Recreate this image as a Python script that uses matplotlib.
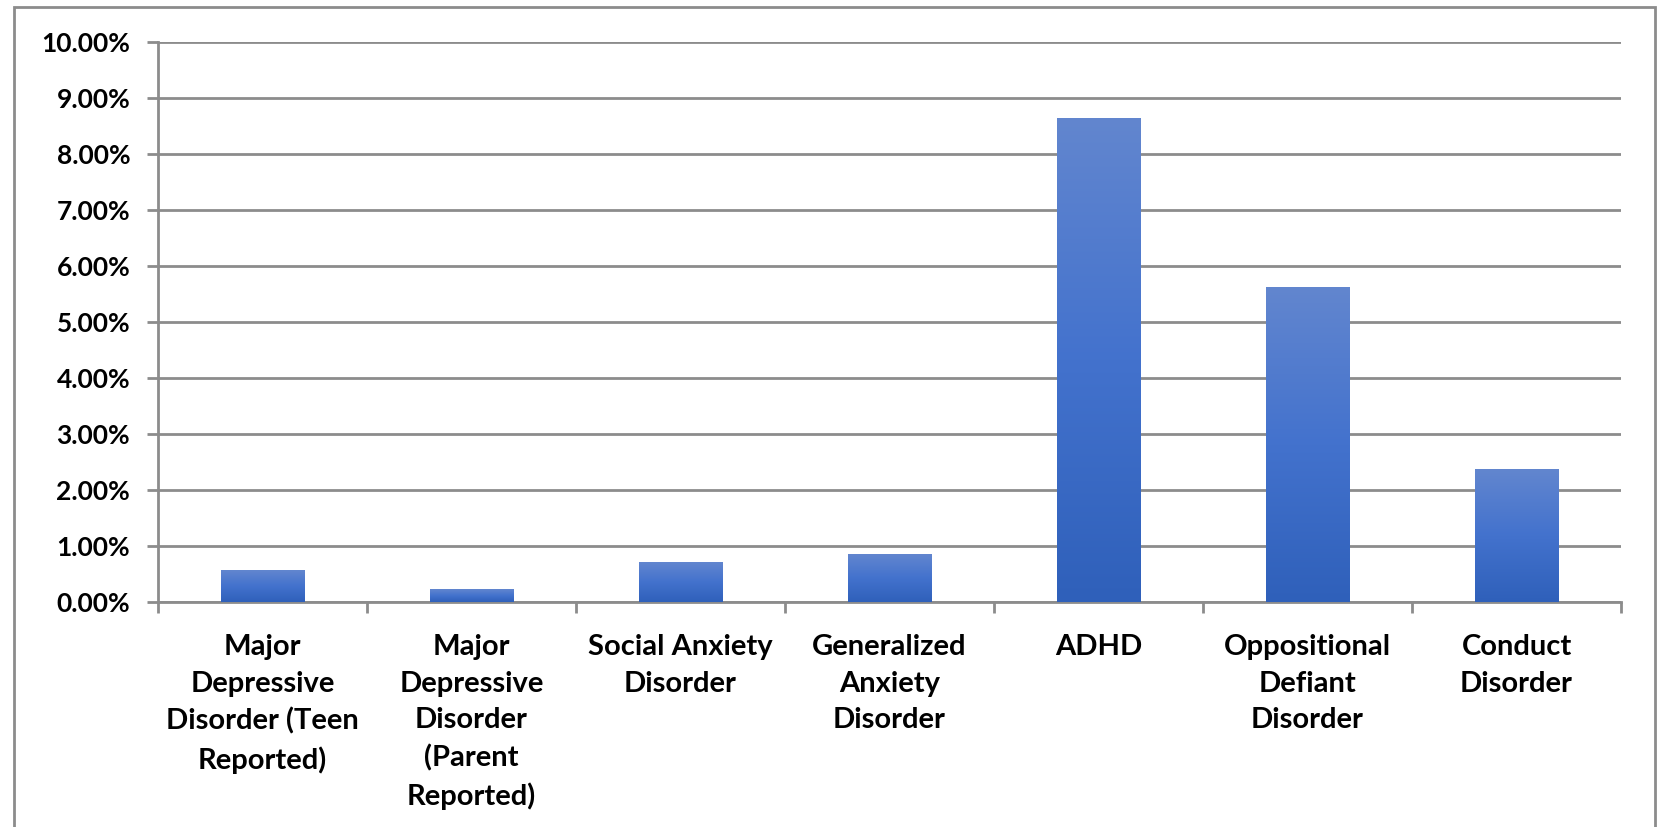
import numpy as np
import matplotlib.pyplot as plt
from matplotlib.patches import Rectangle
from matplotlib.colors import LinearSegmentedColormap
from matplotlib.ticker import FuncFormatter, MultipleLocator

# prevalence by disorder, percent
categories = [
    "Major\nDepressive\nDisorder (Teen\nReported)",
    "Major\nDepressive\nDisorder\n(Parent\nReported)",
    "Social Anxiety\nDisorder",
    "Generalized\nAnxiety\nDisorder",
    "ADHD",
    "Oppositional\nDefiant\nDisorder",
    "Conduct\nDisorder",
]
prevalence = [0.56, 0.22, 0.70, 0.85, 8.63, 5.61, 2.37]

plt.rcParams["font.family"] = ["Lato", "DejaVu Sans"]
plt.rcParams["font.weight"] = "bold"

GRID = "#8c8c8c"
fig = plt.figure(figsize=(16.66, 8.27), dpi=100)
ax = fig.add_axes([0.0948, 0.272, 0.973 - 0.0948, 0.949 - 0.272])

# outer chart frame (bottom edge runs off the canvas)
fig.patches.append(Rectangle((14 / 1666, -0.05), (1655 - 14) / 1666, 1.05 - 7 / 827,
                             transform=fig.transFigure, fill=False,
                             edgecolor=GRID, linewidth=2.0))

# vertical gradient used to fill each bar
bar_cmap = LinearSegmentedColormap.from_list("bar", ["#2f60ba", "#4372cd", "#6286cf"])
grad = np.linspace(0, 1, 256).reshape(-1, 1)

x = np.arange(len(categories))
width = 0.4
bars = ax.bar(x, prevalence, width=width, color="none", zorder=3)
for b in bars:
    x0, w, h = b.get_x(), b.get_width(), b.get_height()
    ax.imshow(grad, cmap=bar_cmap, origin="lower", aspect="auto",
              extent=(x0, x0 + w, 0, h), zorder=3, interpolation="bicubic")

ax.set_xlim(-0.5, len(categories) - 0.5)
ax.set_ylim(0, 10)
ax.yaxis.set_major_locator(MultipleLocator(1))
ax.yaxis.set_major_formatter(FuncFormatter(lambda v, _: f"{v:.2f}%"))
ax.grid(axis="y", color=GRID, linewidth=2.0, zorder=1)
ax.set_axisbelow(True)

for s in ["top", "right"]:
    ax.spines[s].set_visible(False)
for s in ["left", "bottom"]:
    ax.spines[s].set_color(GRID)
    ax.spines[s].set_linewidth(2.0)

ax.set_xticks(x)
ax.set_xticklabels(categories, fontsize=21, fontweight="bold", linespacing=1.5,
                   va="top")
ax.set_xticks(np.arange(len(categories) + 1) - 0.5, minor=True)
ax.tick_params(axis="x", which="major", length=0, pad=23)
ax.tick_params(axis="x", which="minor", length=8, width=2, color=GRID, direction="out")
ax.tick_params(axis="y", length=8, width=2, color=GRID, pad=12, labelsize=19)
for lbl in ax.get_yticklabels():
    lbl.set_fontweight("bold")

fig.savefig("out.png", dpi=100)
